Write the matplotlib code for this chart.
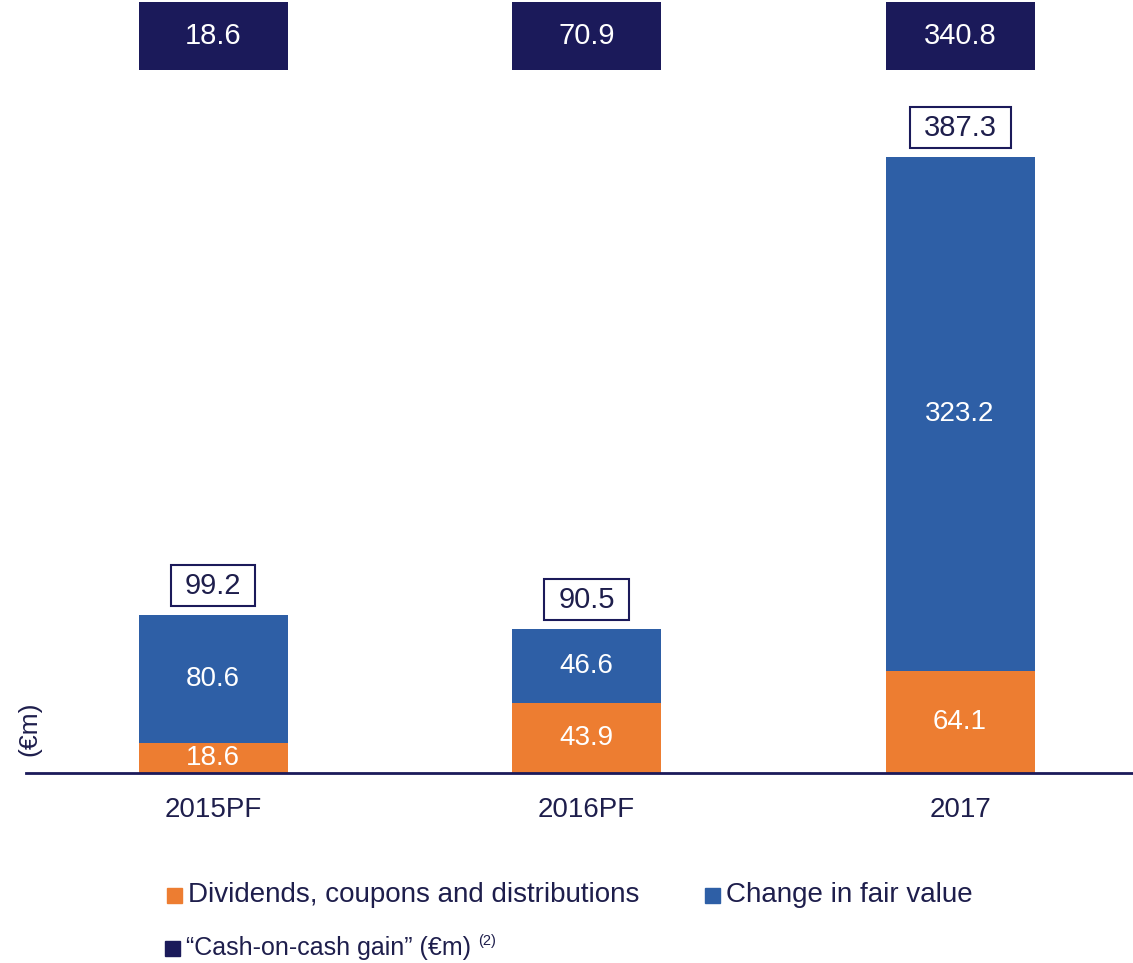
import matplotlib
matplotlib.use('Agg')
import matplotlib.pyplot as plt
from matplotlib.patches import Rectangle
import numpy as np

# values in EUR millions
years = ['2015PF', '2016PF', '2017']
dividends = [18.6, 43.9, 64.1]
fair_value = [80.6, 46.6, 323.2]
totals = [99.2, 90.5, 387.3]
cash_gain = [18.6, 70.9, 340.8]

orange = '#ED7D31'
blue = '#2E5FA6'
navy = '#1B1A5A'
text_col = '#1E1E4C'

plt.rcParams['font.family'] = ['Liberation Sans', 'DejaVu Sans']

fig = plt.figure(figsize=(11.33, 9.63), dpi=100)
W, H = 1133, 963
base_px = 773
ax = fig.add_axes([26 / W, (H - base_px) / H, 1 - 26 / W, base_px / H])

x = np.arange(len(years))
width = 0.399
px_per_unit = 1.59
ymax = base_px / px_per_unit

b1 = ax.bar(x, dividends, width, color=orange)
b2 = ax.bar(x, fair_value, width, bottom=dividends, color=blue)
ax.bar_label(b1, labels=[f'{v:.1f}' for v in dividends], label_type='center',
             color='white', fontsize=20)
ax.bar_label(b2, labels=[f'{v:.1f}' for v in fair_value], label_type='center',
             color='white', fontsize=20)

# outlined totals above each stack
total_texts = []
for xi, t in zip(x, totals):
    total_texts.append(ax.text(xi, t + 29.5 / px_per_unit, f'{t:.1f}', ha='center',
                               va='center', fontsize=21, color=text_col))

# cash-on-cash gain boxes along the top
top_h = 68 / px_per_unit
top_b = ymax - 70 / px_per_unit
ax.bar(x, [top_h] * len(x), width, bottom=top_b, color=navy, clip_on=False)
for xi, g in zip(x, cash_gain):
    ax.text(xi, top_b + top_h / 2, f'{g:.1f}', ha='center', va='center',
            fontsize=21, color='white')

ax.set_xlim(-0.5007, 2.463)
ax.set_ylim(0, ymax)
for s in ['top', 'right', 'left']:
    ax.spines[s].set_visible(False)
ax.spines['bottom'].set_color(navy)
ax.spines['bottom'].set_linewidth(2)
ax.set_yticks([])
ax.set_xticks(x)
ax.set_xticklabels(years, fontsize=20, color=text_col)
ax.tick_params(axis='x', length=0, pad=17)

fig.text(29 / W, 1 - 729 / H, '(€m)', rotation=90, ha='center', va='center',
         fontsize=19, color=text_col)

# legend, drawn by hand
def legend_item(px, py, color, label, size=20):
    fig.patches.append(Rectangle((px / W, 1 - (py + 8) / H), 15 / W, 15 / H,
                                 color=color, transform=fig.transFigure))
    return fig.text((px + 21) / W, 1 - py / H, label, ha='left', va='center',
                    fontsize=size, color=text_col)

legend_item(167, 895, orange, 'Dividends, coupons and distributions')
legend_item(705, 895, blue, 'Change in fair value')
t3 = legend_item(165, 948, navy, '“Cash-on-cash gain” (€m)', size=18)

fig.canvas.draw()
end_px = t3.get_window_extent().x1
fig.text((end_px + 7) / W, 1 - 941 / H, '(2)', ha='left', va='center',
         fontsize=10.5, color=text_col)

# frame each total label, wider than the text itself
inv = ax.transData.inverted()
for txt in total_texts:
    bb = txt.get_window_extent()
    xc, yc = (bb.x0 + bb.x1) / 2, (bb.y0 + bb.y1) / 2
    half_w = bb.width / 2 + 14
    half_h = 20.5
    (x0, y0), (x1, y1) = inv.transform([(xc - half_w, yc - half_h),
                                        (xc + half_w, yc + half_h)])
    ax.add_patch(Rectangle((x0, y0), x1 - x0, y1 - y0, fill=False, ec=navy,
                           lw=1.5, zorder=3))

fig.savefig('out.png', dpi=100)
